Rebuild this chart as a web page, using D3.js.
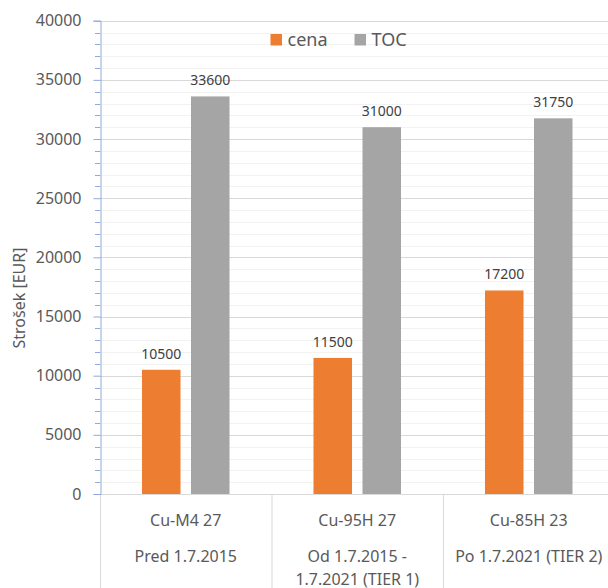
<!DOCTYPE html>
<html>
<head>
<meta charset="utf-8">
<script src="https://cdn.jsdelivr.net/npm/d3@7"></script>
<style>
  body { margin: 0; background: #fff; }
  text { font-family: "Noto Sans", sans-serif; fill: #595959; }
</style>
</head>
<body>
<svg width="608" height="588"></svg>
<script>
const categories = ["Cu-M4 27", "Cu-95H 27", "Cu-85H 23"];
const periods = [["Pred 1.7.2015"], ["Od 1.7.2015 -", "1.7.2021 (TIER 1)"], ["Po 1.7.2021 (TIER 2)"]];
const series = ["cena", "TOC"];
const cena = [10500, 11500, 17200];
const toc = [33600, 31000, 31750];
const yTicks = [0, 5000, 10000, 15000, 20000, 25000, 30000, 35000, 40000];

const colors = { cena: "#ED7D31", TOC: "#A5A5A5" };

const svg = d3.select("svg");

const plotLeft = 100, plotRight = 614.5, plotTop = 20.7, plotBottom = 494;

const x0 = d3.scaleBand()
  .domain(categories)
  .range([plotLeft, plotRight])
  .padding(0);

const x1 = d3.scaleBand()
  .domain(series)
  .range([0, x0.bandwidth()])
  .paddingInner(0.214)
  .paddingOuter(0.857);

const y = d3.scaleLinear()
  .domain([0, 40000])
  .range([plotBottom, plotTop]);

const minorTicks = d3.range(1000, 40000, 1000).filter(v => v % 5000 !== 0);

// minor gridlines
svg.append("g")
  .selectAll("line")
  .data(minorTicks)
  .enter().append("line")
  .attr("x1", plotLeft).attr("x2", plotRight)
  .attr("y1", d => Math.round(y(d)) + 0.5).attr("y2", d => Math.round(y(d)) + 0.5)
  .attr("stroke", "#F2F2F2");

// major gridlines
svg.append("g")
  .selectAll("line")
  .data(yTicks.filter(v => v > 0))
  .enter().append("line")
  .attr("x1", plotLeft).attr("x2", plotRight)
  .attr("y1", d => Math.round(y(d)) + 0.5).attr("y2", d => Math.round(y(d)) + 0.5)
  .attr("stroke", "#D9D9D9");

// bars
const rows = categories.map((c, i) => ({ cat: c, values: [{ s: "cena", v: cena[i] }, { s: "TOC", v: toc[i] }] }));

const groups = svg.append("g")
  .selectAll("g")
  .data(rows)
  .enter().append("g")
  .attr("transform", d => `translate(${x0(d.cat)},0)`);

groups.selectAll("rect")
  .data(d => d.values)
  .enter().append("rect")
  .attr("x", d => x1(d.s))
  .attr("width", x1.bandwidth())
  .attr("y", d => y(d.v))
  .attr("height", d => y(0) - y(d.v))
  .attr("fill", d => colors[d.s]);

groups.selectAll("text")
  .data(d => d.values)
  .enter().append("text")
  .attr("x", d => x1(d.s) + x1.bandwidth() / 2)
  .attr("y", d => y(d.v) - 11)
  .attr("text-anchor", "middle")
  .style("font-size", "14px")
  .style("fill", "#404040")
  .text(d => d.v);

// x axis line and category dividers
svg.append("line")
  .attr("x1", plotLeft).attr("x2", plotRight)
  .attr("y1", plotBottom + 0.5).attr("y2", plotBottom + 0.5)
  .attr("stroke", "#D9D9D9");

svg.append("g")
  .selectAll("line")
  .data(categories.concat(["end"]))
  .enter().append("line")
  .attr("x1", (d, i) => i < categories.length ? x0(d) + 0.5 : plotRight)
  .attr("x2", (d, i) => i < categories.length ? x0(d) + 0.5 : plotRight)
  .attr("y1", plotBottom).attr("y2", 588)
  .attr("stroke", "#D9D9D9");

// category labels
const xl = svg.append("g")
  .selectAll("g")
  .data(categories)
  .enter().append("g")
  .attr("transform", d => `translate(${x0(d) + x0.bandwidth() / 2},0)`);

xl.append("text")
  .attr("y", 526)
  .attr("text-anchor", "middle")
  .style("font-size", "16px")
  .text(d => d);

xl.each(function(d, i) {
  d3.select(this).selectAll("text.period")
    .data(periods[i])
    .enter().append("text")
    .attr("class", "period")
    .attr("y", (p, j) => 562 + j * 23)
    .attr("text-anchor", "middle")
    .style("font-size", "16px")
    .text(p => p);
});

// y axis
const yAxis = svg.append("g")
  .attr("transform", `translate(${plotLeft + 0.5},0)`)
  .call(d3.axisLeft(y).tickValues(yTicks).tickSize(7).tickPadding(12).tickFormat(d3.format("d")));
yAxis.select(".domain").attr("stroke", "#8FAADC");
yAxis.selectAll(".tick line").attr("stroke", "#8FAADC");
yAxis.selectAll(".tick text").style("font-size", "16px").style("fill", "#595959").style("font-family", "Noto Sans");

svg.append("g")
  .selectAll("line")
  .data(minorTicks)
  .enter().append("line")
  .attr("x1", plotLeft - 5).attr("x2", plotLeft)
  .attr("y1", d => Math.round(y(d)) + 0.5).attr("y2", d => Math.round(y(d)) + 0.5)
  .attr("stroke", "#8FAADC");

svg.append("text")
  .attr("transform", "translate(25,298) rotate(-90)")
  .attr("text-anchor", "middle")
  .style("font-size", "16px")
  .text("Strošek [EUR]");

// legend
const legendX = [270.5, 354.5];
const legend = svg.append("g")
  .selectAll("g")
  .data(series)
  .enter().append("g")
  .attr("transform", (d, i) => `translate(${legendX[i]},34)`);

legend.append("rect")
  .attr("width", 11.5).attr("height", 11.5)
  .attr("fill", d => colors[d]);

legend.append("text")
  .attr("x", 17)
  .attr("y", 12)
  .style("font-size", "18px")
  .text(d => d);
</script>
</body>
</html>
